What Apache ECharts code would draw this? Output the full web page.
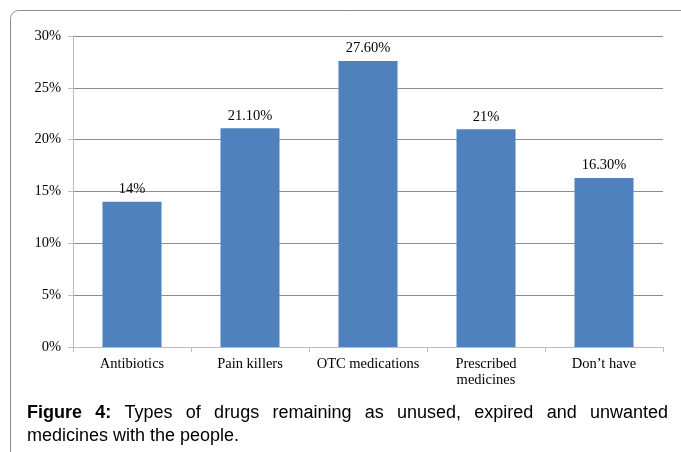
<!DOCTYPE html>
<html><head><meta charset="utf-8">
<script src="https://cdn.jsdelivr.net/npm/echarts@6/dist/echarts.min.js"></script>
<style>html,body{margin:0;padding:0;background:#fff}#c{width:681px;height:452px}</style>
</head><body><div id="c"></div>
<script>
const categories = ['Antibiotics', 'Pain killers', 'OTC medications', 'Prescribed\nmedicines', 'Don\u2019t have'];
const values = [14, 21.1, 27.6, 21, 16.3];
const valueLabels = ['14%', '21.10%', '27.60%', '21%', '16.30%'];
const captionBold = 'Figure 4:';
const captionLine1 = 'Types of drugs remaining as unused, expired and unwanted';
const captionLine2 = 'medicines with the people.';

const chart = echarts.init(document.getElementById('c'), null, {renderer: 'canvas'});
const serif = '"Liberation Serif", "Times New Roman", serif';
const sans = '"Liberation Sans", Arial, sans-serif';
const capSize = 18;

// justified caption line 1
const ctx = document.createElement('canvas').getContext('2d');
function w(t, bold) { ctx.font = (bold ? 'bold ' : '') + capSize + 'px ' + sans; return ctx.measureText(t).width; }
const words = [];
captionBold.split(' ').forEach(t => words.push({t, b: true}));
captionLine1.split(' ').forEach(t => words.push({t, b: false}));
const x0 = 27, x1 = 668;
let total = 0; words.forEach(o => { o.w = w(o.t, o.b); total += o.w; });
const gap = (x1 - x0 - total) / (words.length - 1);
const graphics = [{
  type: 'rect', shape: {x: 10.5, y: 10.5, width: 700, height: 500, r: 8},
  style: {fill: 'none', stroke: '#8a8a8a', lineWidth: 1}, silent: true
}];
let cx = x0;
words.forEach(o => {
  graphics.push({type: 'text', x: cx, y: 413, style: {text: o.t, font: (o.b ? 'bold ' : '') + capSize + 'px ' + sans, fill: '#000', verticalAlign: 'middle', textVerticalAlign: 'middle'}});
  cx += o.w + gap;
});
graphics.push({type: 'text', x: x0, y: 436, style: {text: captionLine2, font: capSize + 'px ' + sans, fill: '#000', verticalAlign: 'middle', textVerticalAlign: 'middle'}});

chart.setOption({
  animation: false,
  grid: {left: 73, right: 18, top: 36, bottom: 105, containLabel: false},
  xAxis: {
    type: 'category', data: categories,
    axisLine: {lineStyle: {color: '#bdbdbd', width: 1}},
    axisTick: {show: true, alignWithLabel: false, length: 5, lineStyle: {color: '#bdbdbd'}},
    axisLabel: {color: '#000', fontFamily: serif, fontSize: 14.5, margin: 9, lineHeight: 16, interval: 0}
  },
  yAxis: {
    type: 'value', min: 0, max: 30, interval: 5,
    axisLine: {show: true, lineStyle: {color: '#bdbdbd'}},
    axisTick: {show: true, length: 5, lineStyle: {color: '#bdbdbd'}},
    axisLabel: {color: '#000', fontFamily: serif, fontSize: 14.5, margin: 12, formatter: v => v + '%'},
    splitLine: {show: true, lineStyle: {color: '#8c8c8c', width: 1}}
  },
  series: [{
    type: 'bar', data: values, barWidth: '50%',
    itemStyle: {color: '#4F81BD'},
    label: {show: true, position: 'top', distance: 5, color: '#000', fontFamily: serif, fontSize: 14.5,
      formatter: p => valueLabels[p.dataIndex]}
  }],
  graphic: graphics
});
</script></body></html>
